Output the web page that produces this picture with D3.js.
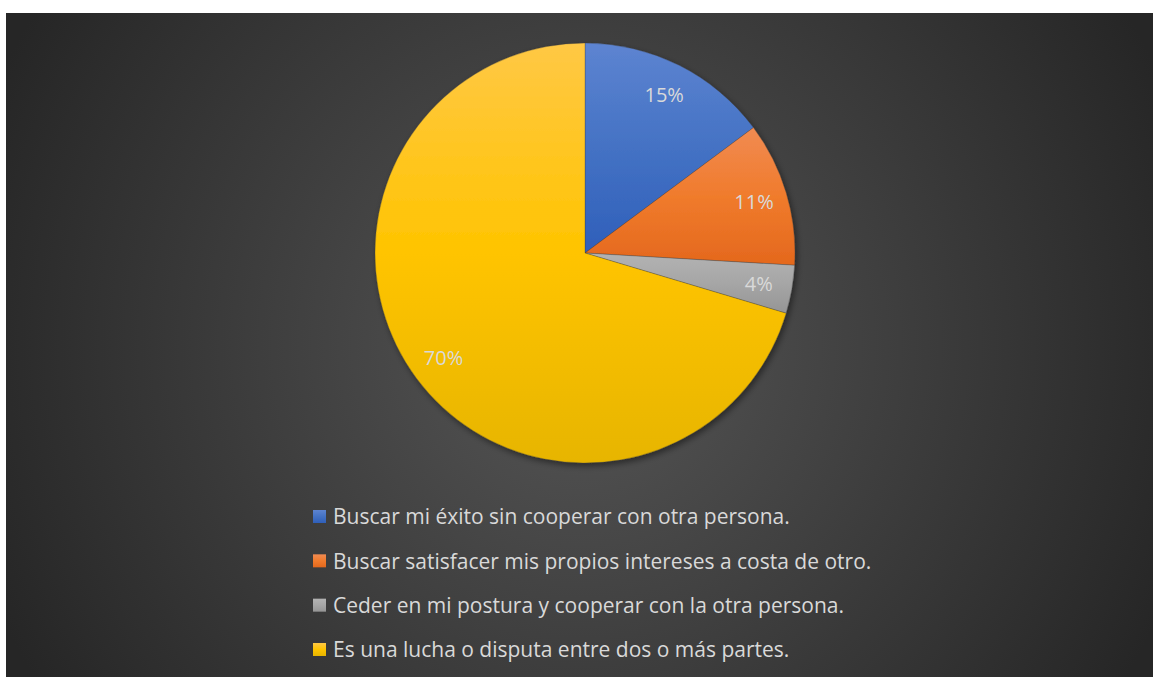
<!DOCTYPE html>
<html>
<head>
<meta charset="utf-8">
<script src="https://cdn.jsdelivr.net/npm/d3@7"></script>
<style>
  body { margin: 0; background: #fff; }
  svg { display: block; }
  text { font-family: "Open Sans", sans-serif; }
</style>
</head>
<body>
<svg id="chart" width="1153" height="677"></svg>
<script>
// answers (counts out of 27 -> 15%, 11%, 4%, 70%)
var categories = [
    "Buscar mi éxito sin cooperar con otra persona.",
    "Buscar satisfacer mis propios intereses a costa de otro.",
    "Ceder en mi postura y cooperar con la otra persona.",
    "Es una lucha o disputa entre dos o más partes."
];
var counts = [4, 3, 1, 19];
// office style gradient: light top, base middle, shaded bottom
var topColors = ["#5d84d1", "#f18b52", "#b3b3b3", "#ffc845"];
var midColors = ["#4472c4", "#f07b2c", "#a6a6a6", "#ffc400"];
var bottomColors = ["#2f5fba", "#e4681d", "#959595", "#e7b500"];

var svg = d3.select("#chart");
var defs = svg.append("defs");

// background with radial gradient
var bg = defs.append("radialGradient").attr("id", "bg")
    .attr("gradientUnits", "userSpaceOnUse")
    .attr("cx", 580).attr("cy", 345).attr("r", 640);
bg.append("stop").attr("offset", "0").attr("stop-color", "#565656");
bg.append("stop").attr("offset", "1").attr("stop-color", "#262626");

svg.append("rect")
    .attr("x", 6).attr("y", 13)
    .attr("width", 1147).attr("height", 664)
    .attr("fill", "url(#bg)");

// drop shadow for the pie
var shadow = defs.append("filter").attr("id", "shadow")
    .attr("x", "-20%").attr("y", "-20%").attr("width", "140%").attr("height", "140%");
shadow.append("feDropShadow")
    .attr("dx", 2).attr("dy", 3).attr("stdDeviation", 3)
    .attr("flood-color", "#000").attr("flood-opacity", 0.45);

var cx = 585, cy = 253, radius = 210;

var pie = d3.pie().sort(null).value(function(d){ return d; });
var arcs = pie(counts);
var total = d3.sum(counts);

var arc = d3.arc().innerRadius(0).outerRadius(radius);
var labelArc = d3.arc().innerRadius(radius * 0.84).outerRadius(radius * 0.84);

// min / max y of a slice relative to center
function arcBox(a){
    var ys = [0];
    var steps = 60;
    for (var k = 0; k <= steps; k++) {
        var t = a.startAngle + (a.endAngle - a.startAngle) * k / steps;
        ys.push(-Math.cos(t) * radius);
    }
    return [d3.min(ys), d3.max(ys)];
}

function addStops(grad, i){
    grad.append("stop").attr("offset", "0").attr("stop-color", topColors[i]);
    grad.append("stop").attr("offset", "0.5").attr("stop-color", midColors[i]);
    grad.append("stop").attr("offset", "1").attr("stop-color", bottomColors[i]);
}

// one vertical gradient per slice, over the slice's own box
// (coords are in the translated pie group, so relative to the center)
arcs.forEach(function(a, i){
    var b = arcBox(a);
    var g = defs.append("linearGradient").attr("id", "slice" + i)
        .attr("gradientUnits", "userSpaceOnUse")
        .attr("x1", 0).attr("x2", 0)
        .attr("y1", b[0]).attr("y2", b[1]);
    addStops(g, i);
    var lg = defs.append("linearGradient").attr("id", "leg" + i)
        .attr("x1", 0).attr("x2", 0).attr("y1", 0).attr("y2", 1);
    addStops(lg, i);
});

var g = svg.append("g")
    .attr("transform", "translate(" + cx + "," + cy + ")");

g.append("g").attr("filter", "url(#shadow)")
    .selectAll("path")
    .data(arcs)
    .enter().append("path")
    .attr("d", arc)
    .attr("fill", function(d, i){ return "url(#slice" + i + ")"; })
    .attr("stroke", "rgba(60,60,60,0.5)")
    .attr("stroke-width", 0.6);

g.selectAll("text.pct")
    .data(arcs)
    .enter().append("text")
    .attr("class", "pct")
    .attr("transform", function(d){ return "translate(" + labelArc.centroid(d) + ")"; })
    .attr("text-anchor", "middle")
    .attr("dy", "0.35em")
    .attr("fill", "#d9d9d9")
    .attr("font-size", 20)
    .text(function(d){ return Math.round(d.value / total * 100) + "%"; });

// legend
var legendY = d3.scalePoint().domain(d3.range(categories.length)).range([517, 650]);

var legend = svg.append("g").selectAll("g")
    .data(categories)
    .enter().append("g")
    .attr("transform", function(d, i){ return "translate(313," + legendY(i) + ")"; });

legend.append("rect")
    .attr("x", 0).attr("y", -7)
    .attr("width", 13).attr("height", 13)
    .attr("fill", function(d, i){ return "url(#leg" + i + ")"; });

legend.append("text")
    .attr("x", 20).attr("dy", "0.35em")
    .attr("fill", "#d9d9d9")
    .attr("font-size", 21)
    .text(function(d){ return d; });
</script>
</body>
</html>
